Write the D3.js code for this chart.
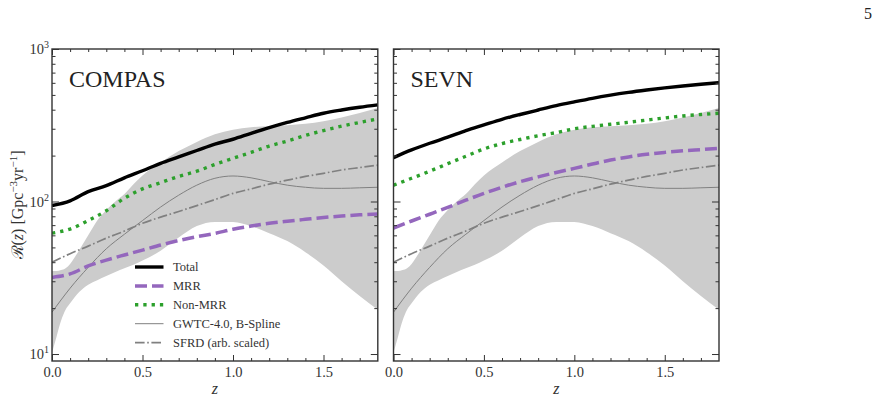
<!DOCTYPE html>
<html>
<head>
<meta charset="utf-8">
<script src="https://cdn.jsdelivr.net/npm/d3@7"></script>
<style>
  body { margin: 0; background: #fff; }
  svg, svg text { font-family: "Liberation Serif", "Times New Roman", "DejaVu Serif", serif !important; }
</style>
</head>
<body>
<svg id="chart" width="879" height="418" font-family="Liberation Serif"></svg>
<script>
// --- data ---
const zVals = [0.0, 0.1, 0.2, 0.3, 0.4, 0.5, 0.6, 0.7, 0.8, 0.9, 1.0, 1.1, 1.2, 1.3, 1.4, 1.5, 1.6, 1.7, 1.8];

const compasTotal  = [94, 101, 116, 127, 143, 159, 178, 196, 216, 238, 256, 280, 305, 330, 354, 379, 398, 415, 430];
const compasMRR    = [31.8, 33.5, 37.8, 41.3, 44.6, 48, 51.9, 55.5, 58.8, 61.8, 65.8, 69, 72, 74.3, 76.4, 78.5, 80.3, 81.8, 82.8];
const compasNonMRR = [62, 66, 75, 87, 105, 121, 133, 146, 158, 175, 192, 210, 231, 249, 271, 292, 312, 330, 348];

const sevnTotal  = [194, 218, 241, 264, 292, 318, 346, 372, 398, 425, 450, 475, 498, 519, 538, 556, 572, 587, 601];
const sevnMRR    = [67, 74.5, 82.5, 91.5, 102, 113, 124, 135, 145, 155, 165, 176, 187, 196, 204, 210, 215, 219, 223];
const sevnNonMRR = [128, 142, 158, 177, 198, 221, 240, 255, 270, 283, 300, 311, 321, 331, 342, 353, 364, 372, 379];

const gwtcSpline = [18.8, 27, 37, 49, 61, 75, 92, 110, 128, 142, 147, 143, 135, 128, 124, 122, 122, 123, 124];
const sfrdScaled = [40, 45.5, 51, 57.5, 64, 72, 79, 86, 94, 103, 113, 121, 130, 138, 146, 153, 161, 167, 173];

const bandZ    = [0, 0.025, 0.05, 0.075, 0.1, 0.15, 0.2, 0.25, 0.3, 0.35, 0.4, 0.45, 0.5, 0.6, 0.7, 0.8, 0.9, 1.0, 1.1, 1.2, 1.3, 1.4, 1.5, 1.6, 1.7, 1.8];
const bandLow  = [10.2, 13, 16.5, 19.5, 21.5, 25.5, 28.5, 30.5, 32.5, 34.5, 36.5, 38.5, 41, 47.5, 58, 69, 73.5, 73.5, 69, 62, 55, 46.5, 38, 30, 24, 19.5];
const bandHigh = [35, 35, 35.5, 36.5, 39, 48, 60, 75, 88, 100, 112, 130, 148, 180, 214, 246, 276, 296, 307, 312, 316, 323, 336, 356, 380, 410];

const panels = [
  { name: "COMPAS", total: compasTotal, mrr: compasMRR, nonmrr: compasNonMRR, x0: 52, x1: 377.8, yLabels: true },
  { name: "SEVN",   total: sevnTotal,   mrr: sevnMRR,   nonmrr: sevnNonMRR,   x0: 393.5, x1: 719, yLabels: false }
];

const legendItems = [
  { label: "Total", color: "#000", width: 3.4, dash: null },
  { label: "MRR", color: "#9467bd", width: 3.5, dash: "12,5" },
  { label: "Non-MRR", color: "#2ca02c", width: 3.4, dash: "3.3,5" },
  { label: "GWTC-4.0, B-Spline", color: "#808080", width: 1, dash: null },
  { label: "SFRD (arb. scaled)", color: "#808080", width: 1.7, dash: "9.6,2.6,1.6,2.6" }
];

const SERIF = "'Liberation Serif', 'Times New Roman', 'DejaVu Serif', serif";

// --- layout ---
const svg = d3.select("#chart");
const yTop = 49, yBot = 361;
const y = d3.scaleLog().domain([9, 1000]).range([yBot, yTop]);
const yMajor = [10, 100, 1000];
const yMinor = [20, 30, 40, 50, 60, 70, 80, 90, 200, 300, 400, 500, 600, 700, 800, 900];
const xMajor = [0, 0.5, 1.0, 1.5];
const xMinor = [0.1, 0.2, 0.3, 0.4, 0.6, 0.7, 0.8, 0.9, 1.1, 1.2, 1.3, 1.4, 1.6, 1.7];

panels.forEach((p, i) => {
  const x = d3.scaleLinear().domain([0, 1.8]).range([p.x0, p.x1]);
  const g = svg.append("g");

  g.append("clipPath").attr("id", "clip" + i)
    .append("rect").attr("x", p.x0).attr("y", yTop).attr("width", p.x1 - p.x0).attr("height", yBot - yTop);
  const plot = g.append("g").attr("clip-path", `url(#clip${i})`);

  // band
  const area = d3.area()
    .x((d, j) => x(bandZ[j]))
    .y0((d, j) => y(bandLow[j]))
    .y1((d, j) => y(bandHigh[j]))
    .curve(d3.curveMonotoneX);
  plot.append("path").datum(bandZ).attr("d", area).attr("fill", "#cccccc");

  const line = vals => d3.line()
    .x((d, j) => x(zVals[j]))
    .y(d => y(d))
    .curve(d3.curveMonotoneX)(vals);

  const series = [
    { vals: gwtcSpline, st: legendItems[3] },
    { vals: sfrdScaled, st: legendItems[4] },
    { vals: p.mrr, st: legendItems[1] },
    { vals: p.nonmrr, st: legendItems[2] },
    { vals: p.total, st: legendItems[0] }
  ];
  series.forEach(s => {
    plot.append("path")
      .attr("d", line(s.vals))
      .attr("fill", "none")
      .attr("stroke", s.st.color)
      .attr("stroke-width", s.st.width)
      .attr("stroke-dasharray", s.st.dash);
  });

  // axes: ticks inward on all four sides
  const axG = g.append("g").attr("class", "axes");
  const styleAxis = sel => {
    sel.attr("font-family", SERIF);
    sel.select(".domain").remove();
    sel.selectAll("line").attr("stroke", "#333").attr("stroke-width", 1);
    sel.selectAll("text").style("font-size", "14.5px").style("font-family", SERIF).attr("fill", "#333");
  };
  axG.append("g").attr("transform", `translate(0,${yBot})`)
    .call(d3.axisBottom(x).tickValues(xMajor).tickSize(-6).tickPadding(6).tickFormat(d3.format(".1f"))).call(styleAxis);
  axG.append("g").attr("transform", `translate(0,${yBot})`)
    .call(d3.axisBottom(x).tickValues(xMinor).tickSize(-3).tickFormat("")).call(styleAxis);
  axG.append("g").attr("transform", `translate(0,${yTop})`)
    .call(d3.axisTop(x).tickValues(xMajor).tickSize(-6).tickFormat("")).call(styleAxis);
  axG.append("g").attr("transform", `translate(0,${yTop})`)
    .call(d3.axisTop(x).tickValues(xMinor).tickSize(-3).tickFormat("")).call(styleAxis);
  axG.append("g").attr("transform", `translate(${p.x0},0)`)
    .call(d3.axisLeft(y).tickValues(yMajor).tickSize(-7).tickFormat("")).call(styleAxis);
  axG.append("g").attr("transform", `translate(${p.x0},0)`)
    .call(d3.axisLeft(y).tickValues(yMinor).tickSize(-3.5).tickFormat("")).call(styleAxis);
  axG.append("g").attr("transform", `translate(${p.x1},0)`)
    .call(d3.axisRight(y).tickValues(yMajor).tickSize(-7).tickFormat("")).call(styleAxis);
  axG.append("g").attr("transform", `translate(${p.x1},0)`)
    .call(d3.axisRight(y).tickValues(yMinor).tickSize(-3.5).tickFormat("")).call(styleAxis);

  // frame
  g.append("rect").attr("x", p.x0).attr("y", yTop).attr("width", p.x1 - p.x0).attr("height", yBot - yTop)
    .attr("fill", "none").attr("stroke", "#333").attr("stroke-width", 1.4);

  if (p.yLabels) {
    yMajor.forEach(v => {
      const t = g.append("text").attr("x", p.x0 - 3).attr("y", y(v) + 5)
        .attr("text-anchor", "end").style("font-family", SERIF).style("font-size", "14.5px").attr("fill", "#333");
      t.append("tspan").text("10");
      t.append("tspan").attr("dy", -6).style("font-size", "10px").text(Math.round(Math.log10(v)));
    });
  }

  // panel name
  g.append("text").attr("x", p.x0 + 17).attr("y", 87).style("font-family", SERIF)
    .style("font-size", "24px").attr("fill", "#222").text(p.name);

  // x label
  g.append("text").attr("x", (p.x0 + p.x1) / 2).attr("y", 394).attr("text-anchor", "middle")
    .style("font-family", SERIF).style("font-size", "16px").style("font-style", "italic").attr("fill", "#333").text("z");
});

// legend (left panel)
const leg = svg.append("g");
legendItems.forEach((d, i) => {
  const cy = 267 + i * 18.9;
  leg.append("line").attr("x1", 135).attr("x2", 163.5).attr("y1", cy).attr("y2", cy)
    .attr("stroke", d.color).attr("stroke-width", d.width).attr("stroke-dasharray", d.dash);
  leg.append("text").attr("x", 173).attr("y", cy + 4.3).style("font-family", SERIF)
    .style("font-size", "12.5px").attr("fill", "#333").text(d.label);
});

// y label
const yl = svg.append("text").attr("transform", "translate(23,205) rotate(-90)")
  .attr("text-anchor", "middle").style("font-family", SERIF).style("font-size", "16px").attr("fill", "#333");
yl.append("tspan").style("font-family", "'DejaVu Serif', serif").style("font-size", "16px").text("ℛ");
yl.append("tspan").text("(");
yl.append("tspan").style("font-style", "italic").text("z");
yl.append("tspan").text(") [Gpc");
yl.append("tspan").attr("dy", -6).style("font-size", "11px").text("−3");
yl.append("tspan").attr("dy", 6).text("yr");
yl.append("tspan").attr("dy", -6).style("font-size", "11px").text("−1");
yl.append("tspan").attr("dy", 6).text("]");

// page number
svg.append("text").attr("x", 864).attr("y", 19).style("font-family", SERIF)
  .style("font-size", "16px").attr("fill", "#222").text("5");
</script>
</body>
</html>
